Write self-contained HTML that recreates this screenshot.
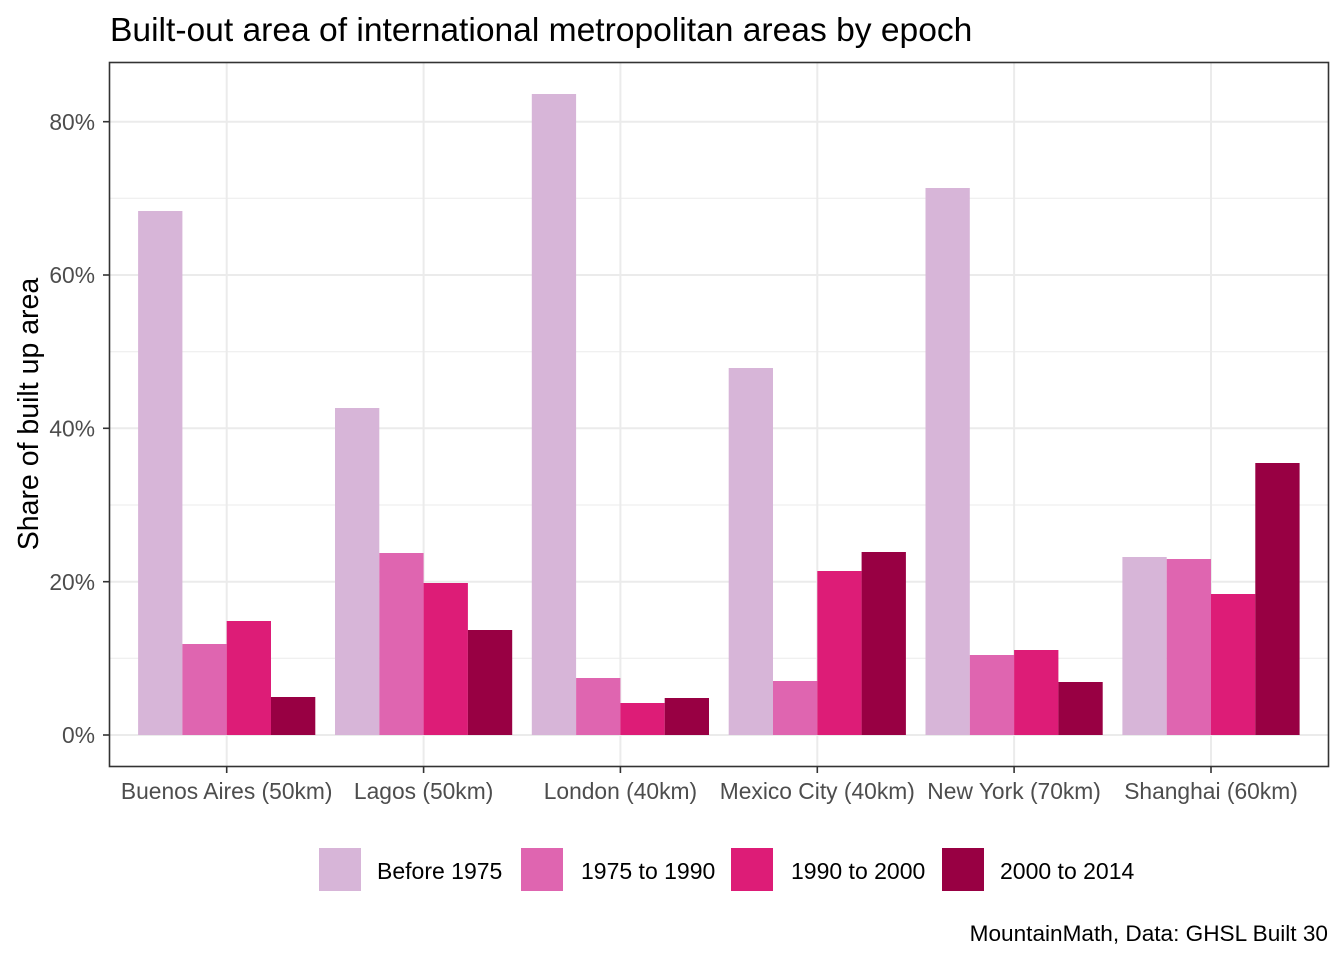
<!DOCTYPE html>
<html>
<head>
<meta charset="utf-8">
<style>
html,body{margin:0;padding:0;background:#fff;}
svg{display:block;font-family:"Liberation Sans",Arial,sans-serif;}
</style>
</head>
<body>
<svg width="1344" height="960" viewBox="0 0 1344 960" xmlns="http://www.w3.org/2000/svg">
<rect x="0" y="0" width="1344" height="960" fill="#fff"/>
<!-- title -->
<text x="110" y="41" font-size="33.6" fill="#000">Built-out area of international metropolitan areas by epoch</text>

<!-- panel background -->
<rect x="109.5" y="62.5" width="1219" height="704" fill="#fff"/>
<!-- minor gridlines -->
<g stroke="#ebebeb" stroke-width="1">
<line x1="109.5" x2="1328.5" y1="658.3" y2="658.3"/>
<line x1="109.5" x2="1328.5" y1="505" y2="505"/>
<line x1="109.5" x2="1328.5" y1="351.7" y2="351.7"/>
<line x1="109.5" x2="1328.5" y1="198.3" y2="198.3"/>
</g>
<!-- major gridlines -->
<g stroke="#ebebeb" stroke-width="2">
<line x1="109.5" x2="1328.5" y1="735" y2="735"/>
<line x1="109.5" x2="1328.5" y1="581.7" y2="581.7"/>
<line x1="109.5" x2="1328.5" y1="428.3" y2="428.3"/>
<line x1="109.5" x2="1328.5" y1="275" y2="275"/>
<line x1="109.5" x2="1328.5" y1="121.7" y2="121.7"/>
<line x1="226.7" x2="226.7" y1="62.5" y2="766.5"/>
<line x1="423.6" x2="423.6" y1="62.5" y2="766.5"/>
<line x1="620.4" x2="620.4" y1="62.5" y2="766.5"/>
<line x1="817.3" x2="817.3" y1="62.5" y2="766.5"/>
<line x1="1014.1" x2="1014.1" y1="62.5" y2="766.5"/>
<line x1="1211" x2="1211" y1="62.5" y2="766.5"/>
</g>

<!-- bars -->
<g>
<rect x="138.1" y="211" width="44.3" height="524" fill="#d7b5d8"/>
<rect x="182.4" y="644" width="44.3" height="91" fill="#df65b0"/>
<rect x="226.7" y="621" width="44.3" height="114" fill="#dd1c77"/>
<rect x="271.0" y="697" width="44.3" height="38" fill="#980043"/>

<rect x="335.0" y="408" width="44.3" height="327" fill="#d7b5d8"/>
<rect x="379.3" y="553" width="44.3" height="182" fill="#df65b0"/>
<rect x="423.6" y="583" width="44.3" height="152" fill="#dd1c77"/>
<rect x="467.9" y="630" width="44.3" height="105" fill="#980043"/>

<rect x="531.8" y="94" width="44.3" height="641" fill="#d7b5d8"/>
<rect x="576.1" y="678" width="44.3" height="57" fill="#df65b0"/>
<rect x="620.4" y="703" width="44.3" height="32" fill="#dd1c77"/>
<rect x="664.7" y="698" width="44.3" height="37" fill="#980043"/>

<rect x="728.7" y="368" width="44.3" height="367" fill="#d7b5d8"/>
<rect x="773.0" y="681" width="44.3" height="54" fill="#df65b0"/>
<rect x="817.3" y="571" width="44.3" height="164" fill="#dd1c77"/>
<rect x="861.6" y="552" width="44.3" height="183" fill="#980043"/>

<rect x="925.5" y="188" width="44.3" height="547" fill="#d7b5d8"/>
<rect x="969.8" y="655" width="44.3" height="80" fill="#df65b0"/>
<rect x="1014.1" y="650" width="44.3" height="85" fill="#dd1c77"/>
<rect x="1058.4" y="682" width="44.3" height="53" fill="#980043"/>

<rect x="1122.4" y="557" width="44.3" height="178" fill="#d7b5d8"/>
<rect x="1166.7" y="559" width="44.3" height="176" fill="#df65b0"/>
<rect x="1211.0" y="594" width="44.3" height="141" fill="#dd1c77"/>
<rect x="1255.3" y="463" width="44.3" height="272" fill="#980043"/>
</g>

<!-- panel border -->
<rect x="109.5" y="62.5" width="1219" height="704" fill="none" stroke="#333333" stroke-width="1.6"/>

<!-- ticks -->
<g stroke="#333333" stroke-width="1.6">
<line x1="103" x2="109.5" y1="735" y2="735"/>
<line x1="103" x2="109.5" y1="581.7" y2="581.7"/>
<line x1="103" x2="109.5" y1="428.3" y2="428.3"/>
<line x1="103" x2="109.5" y1="275" y2="275"/>
<line x1="103" x2="109.5" y1="121.7" y2="121.7"/>
<line x1="226.7" x2="226.7" y1="766.5" y2="773"/>
<line x1="423.6" x2="423.6" y1="766.5" y2="773"/>
<line x1="620.4" x2="620.4" y1="766.5" y2="773"/>
<line x1="817.3" x2="817.3" y1="766.5" y2="773"/>
<line x1="1014.1" x2="1014.1" y1="766.5" y2="773"/>
<line x1="1211" x2="1211" y1="766.5" y2="773"/>
</g>
<g font-size="22.8" fill="#4d4d4d" text-anchor="end">
<text x="95" y="743.2">0%</text>
<text x="95" y="589.9">20%</text>
<text x="95" y="436.5">40%</text>
<text x="95" y="283.2">60%</text>
<text x="95" y="129.9">80%</text>
</g>
<g font-size="22.8" fill="#4d4d4d" text-anchor="middle">
<text x="226.7" y="799">Buenos Aires (50km)</text>
<text x="423.6" y="799">Lagos (50km)</text>
<text x="620.4" y="799">London (40km)</text>
<text x="817.3" y="799">Mexico City (40km)</text>
<text x="1014.1" y="799">New York (70km)</text>
<text x="1211" y="799">Shanghai (60km)</text>
</g>

<!-- y axis title -->
<text transform="translate(38,414) rotate(-90)" font-size="28.5" fill="#000" text-anchor="middle">Share of built up area</text>

<!-- legend -->
<rect x="319" y="848" width="42" height="43" fill="#d7b5d8"/>
<rect x="521" y="848" width="42" height="43" fill="#df65b0"/>
<rect x="731" y="848" width="42" height="43" fill="#dd1c77"/>
<rect x="942" y="848" width="42" height="43" fill="#980043"/>
<g font-size="23" fill="#000">
<text x="377" y="879">Before 1975</text>
<text x="581" y="879">1975 to 1990</text>
<text x="791" y="879">1990 to 2000</text>
<text x="1000" y="879">2000 to 2014</text>
</g>

<!-- caption -->
<text x="1328" y="941" font-size="22.6" fill="#000" text-anchor="end">MountainMath, Data: GHSL Built 30</text>
</svg>
</body>
</html>
